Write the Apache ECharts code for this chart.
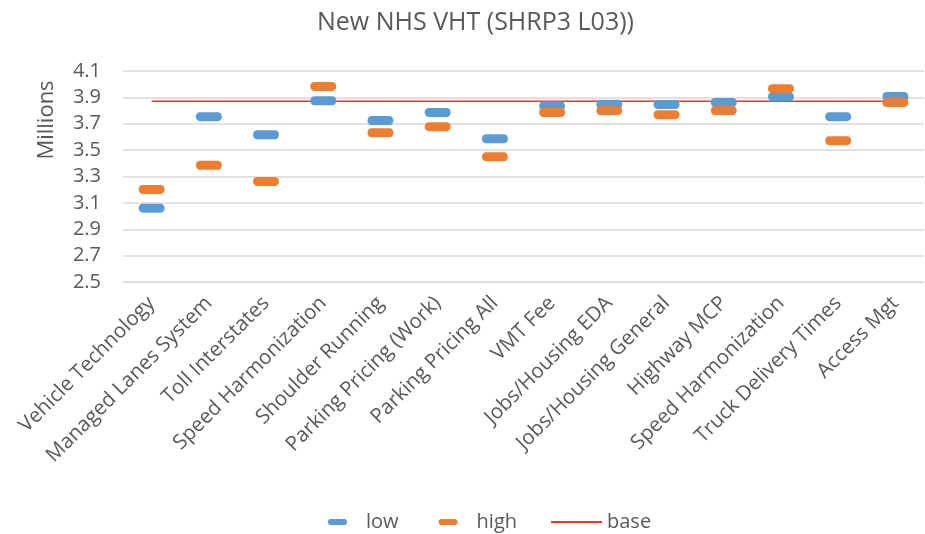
<!DOCTYPE html>
<html>
<head>
<meta charset="utf-8">
<script src="https://cdn.jsdelivr.net/npm/echarts@6/dist/echarts.min.js"></script>
<style>
  html, body { margin: 0; padding: 0; background: #fff; }
  #chart { width: 925px; height: 534px; }
</style>
</head>
<body>
<div id="chart"></div>
<script>
// categories along the x axis
const categories = [
  'Vehicle Technology', 'Managed Lanes System', 'Toll Interstates', 'Speed Harmonization',
  'Shoulder Running', 'Parking Pricing (Work)', 'Parking Pricing All', 'VMT Fee',
  'Jobs/Housing EDA', 'Jobs/Housing General', 'Highway MCP', 'Speed Harmonization',
  'Truck Delivery Times', 'Access Mgt'
];
// VHT in millions
const low = [3.06, 3.754, 3.617, 3.874, 3.724, 3.785, 3.586, 3.836, 3.848, 3.846, 3.861, 3.905, 3.754, 3.907];
const high = [3.202, 3.385, 3.263, 3.983, 3.632, 3.678, 3.449, 3.785, 3.80, 3.769, 3.80, 3.966, 3.571, 3.861];
const base = categories.map(() => 3.87);

const textColor = '#595959';
const font = 'Open Sans';
// pill shaped marker, like the Excel dash marker
const pill = 'path://M4,0 H22 A4,4 0 0 1 22,8 H4 A4,4 0 0 1 4,0 Z';

const chart = echarts.init(document.getElementById('chart'));
chart.setOption({
  animation: false,
  title: {
    text: 'New NHS VHT (SHRP3 L03))',
    left: 312,
    top: 5,
    textStyle: { color: textColor, fontSize: 25, fontWeight: 'normal', fontFamily: font }
  },
  legend: [{
    data: [{ name: 'low', icon: pill }, { name: 'high', icon: pill }],
    left: 323,
    top: 507,
    itemWidth: 19,
    itemHeight: 7,
    itemGap: 40,
    textStyle: { color: textColor, fontSize: 20, fontFamily: font, padding: [0, 0, 0, 14] }
  }, {
    data: [{ name: 'base', icon: 'rect' }],
    left: 546,
    top: 507,
    itemWidth: 51,
    itemHeight: 2,
    textStyle: { color: textColor, fontSize: 20, fontFamily: font }
  }],
  grid: { left: 123, right: 1, top: 71, bottom: 252 },
  graphic: [{
    type: 'text',
    x: 47,
    y: 120,
    rotation: Math.PI / 2,
    style: {
      text: 'Millions',
      fill: textColor,
      fontSize: 22,
      fontFamily: font,
      align: 'center',
      verticalAlign: 'middle'
    }
  }],
  xAxis: {
    type: 'category',
    data: categories,
    axisLine: { lineStyle: { color: '#d9d9d9' } },
    axisTick: { lineStyle: { color: '#d9d9d9' }, length: 5 },
    axisLabel: {
      rotate: 45,
      interval: 0,
      color: textColor,
      fontSize: 20.5,
      fontFamily: font,
      margin: 18
    }
  },
  yAxis: {
    type: 'value',
    min: 2.5,
    max: 4.1,
    interval: 0.2,
    axisLine: { show: false },
    axisTick: { show: false },
    axisLabel: {
      color: textColor,
      fontSize: 20,
      fontFamily: font,
      margin: 22,
      formatter: v => v.toFixed(1)
    },
    splitLine: { lineStyle: { color: '#d9d9d9', width: 1.5 } }
  },
  series: [{
    name: 'base',
    type: 'line',
    data: base,
    symbol: 'none',
    z: 1,
    lineStyle: { color: '#ff3030', width: 1.5 },
    itemStyle: { color: '#ff3030' }
  }, {
    name: 'low',
    type: 'scatter',
    data: low,
    symbol: pill,
    symbolSize: [26, 9],
    z: 2,
    itemStyle: { color: '#5b9bd5', opacity: 1 }
  }, {
    name: 'high',
    type: 'scatter',
    data: high,
    symbol: pill,
    symbolSize: [26, 9],
    z: 3,
    itemStyle: { color: '#ed7d31', opacity: 1 }
  }]
});
</script>
</body>
</html>
